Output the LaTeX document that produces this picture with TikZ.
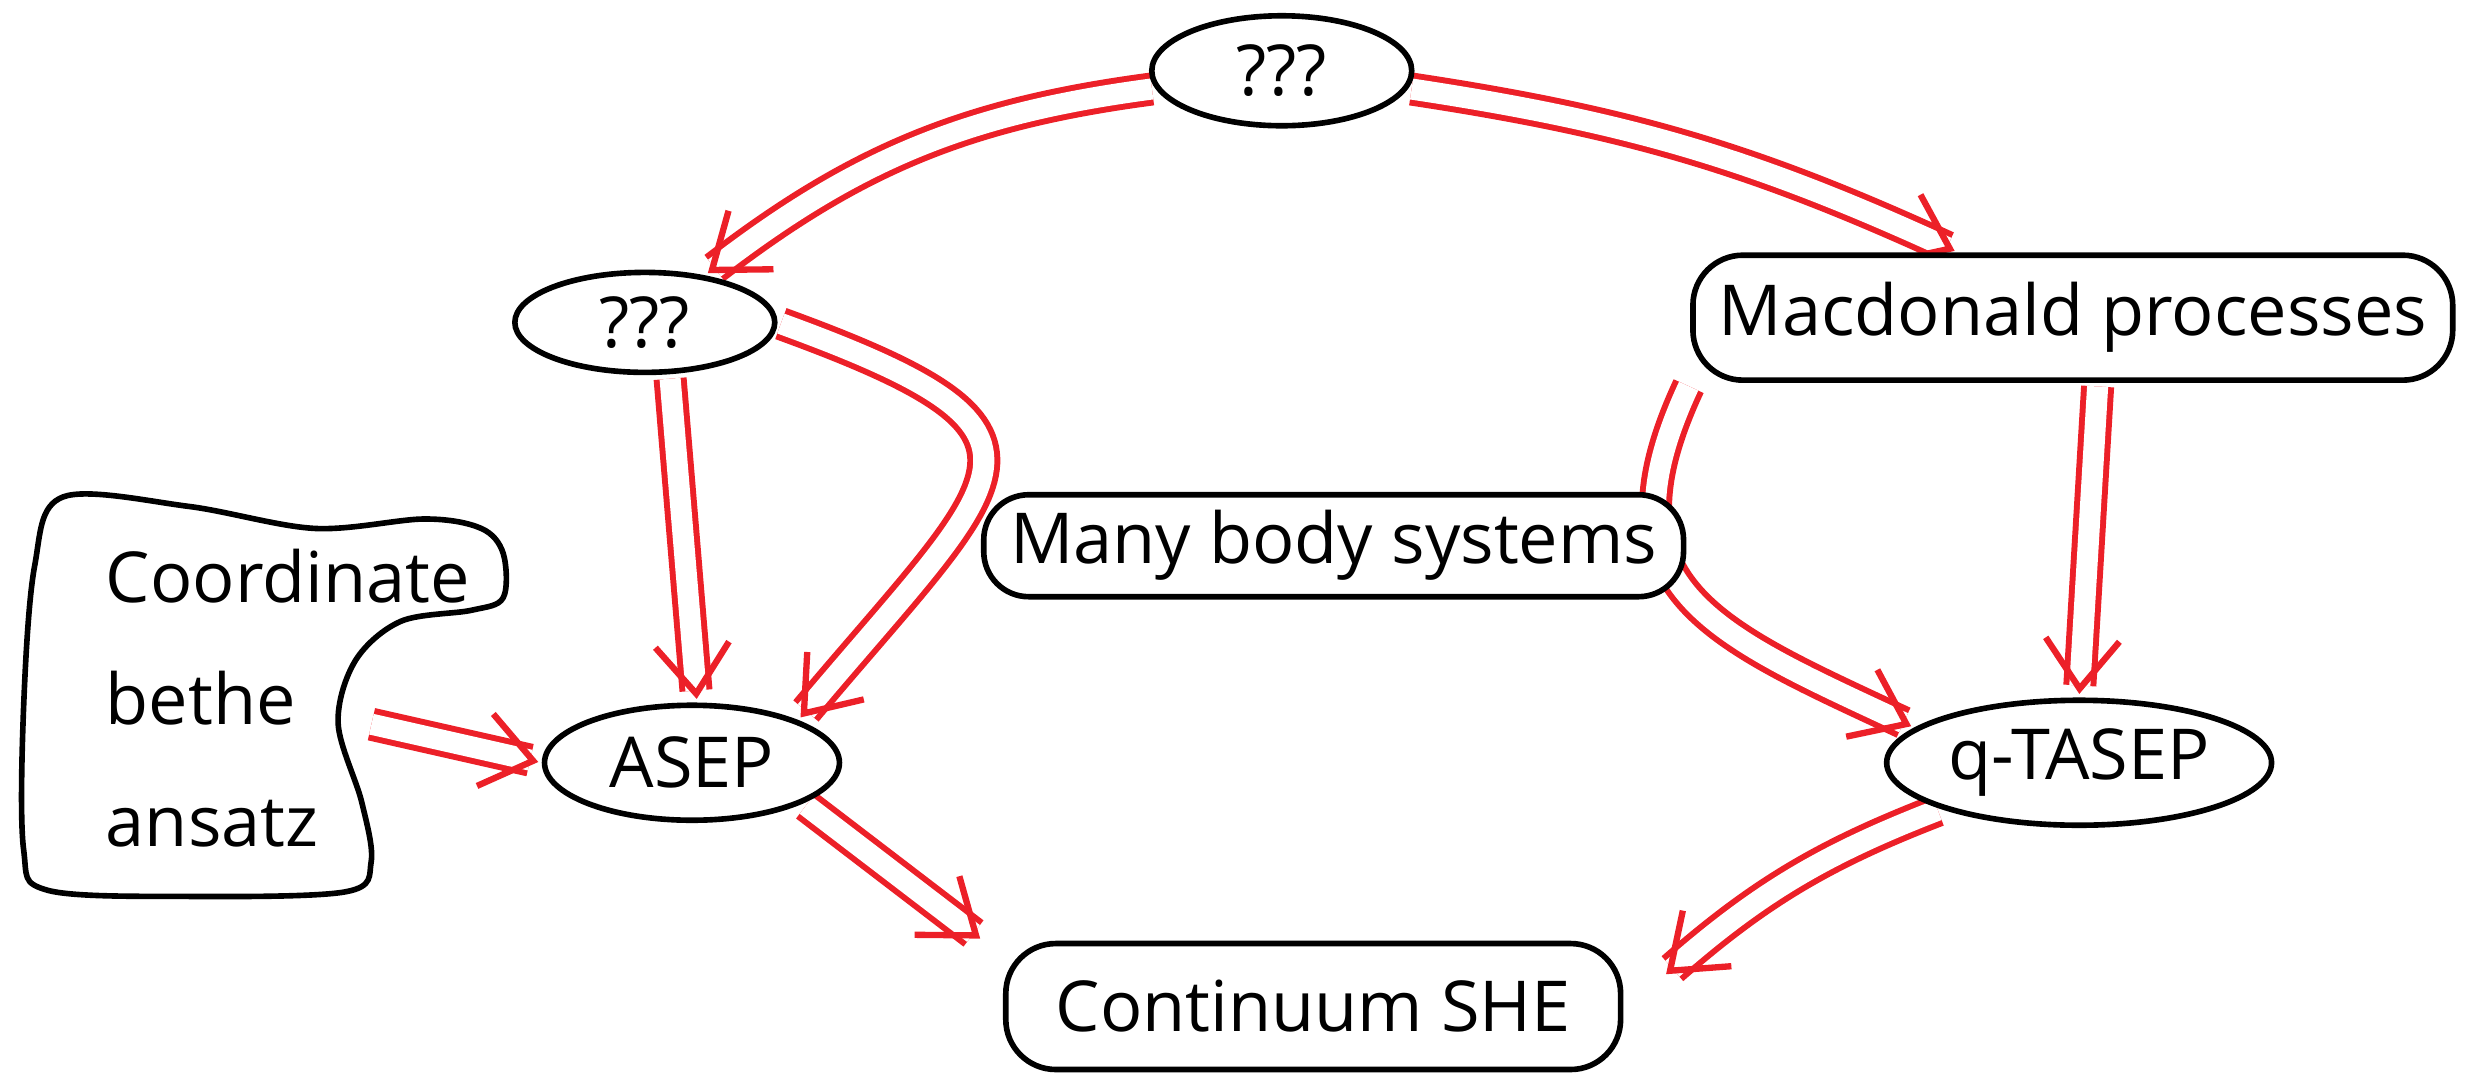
\documentclass[tikz,border=0pt]{standalone}
\usepackage{fontspec}
\setmainfont{Open Sans}
\usetikzlibrary{
        arrows.meta,
        backgrounds,
        positioning,
        shapes.geometric,
        shapes.misc
    }
\definecolor{sketchred}{RGB}{236,32,40}
\tikzset{imp/.style={draw=sketchred,line width=1.7pt,double=white,double distance=6pt,
        -{Straight Barb[length=14pt,width=21pt,line width=1.8pt]},shorten >=1pt,shorten <=1pt}}
\tikzset{blob/.style={draw,line width=1.6pt,fill=white,inner sep=0pt,
        font=\fontsize{20}{24}\selectfont}}

\begin{document}
\begin{tikzpicture}[x=0.015727cm,y=-0.015727cm]
                \tikzstyle{oval}=[blob,ellipse]
                \tikzstyle{pill}=[blob,rectangle,rounded corners=0.5cm]
                \useasboundingbox (0,0) rectangle (1568,692);
                \node[oval,minimum width=2.6cm,minimum height=1.1cm] (topq) at (815,45) {???};
                \node[oval,minimum width=2.6cm,minimum height=1.0cm] (leftq) at (410,205) {???};
                \node[pill,minimum width=7.6cm,minimum height=1.25cm] (mac) at (1318,202) {Macdonald processes};
                \node[pill,minimum width=7.0cm,minimum height=1.02cm,rounded corners=0.45cm] (many) at (848,347) {Many body systems};
                \node[oval,minimum width=2.95cm,minimum height=1.15cm] (asep) at (440,485) {ASEP};
                \node[oval,minimum width=3.85cm,minimum height=1.25cm] (qtasep) at (1322,485) {q-TASEP};
                \node[pill,minimum width=6.15cm,minimum height=1.26cm] (she) at (835,640) {Continuum SHE};
                % Coordinate bethe ansatz blob
                \draw[line width=1.6pt] plot[smooth cycle,tension=0.55] coordinates {
                    (40,316) (120,322) (200,336) (270,330) (306,336) (320,352) (320,380)
                    (300,388) (255,395) (226,420) (215,460) (230,510) (236,548) (220,567)
                    (120,570) (30,566) (15,540) (15,450) (22,360)};
                \node[align=left,inner sep=0pt,font=\fontsize{20}{24}\selectfont] (cba) at (183,444)
                    {Coordinate\\[0.38cm]bethe\\[0.38cm]ansatz};
                \coordinate (cbaedge) at (234,460);
                \begin{scope}[on background layer,every edge/.append style={imp}]
                \path
                    (topq.188) edge [bend right=15] (leftq.38)
                    (topq.-8) edge [bend left=8] ([xshift=-1.15cm]mac.north)
                    ([xshift=0.25cm]leftq.south) edge ([xshift=0.05cm]asep.north)
                    (leftq.east) edge [out=-20,in=50,looseness=2.1] (asep.north east)
                    (cbaedge) edge (asep.west)
                    (asep.-20) edge ([xshift=-0.2cm]she.north west)
                    ([xshift=0.25cm]mac.south) edge (qtasep.north)
                    (mac.south west) edge [out=-115,in=155,looseness=1.4] (qtasep.168)
                    (qtasep.south west) edge [bend right=10] ([shift={(0.4cm,0.3cm)}]she.east);
                \end{scope}
\end{tikzpicture}
\end{document}
